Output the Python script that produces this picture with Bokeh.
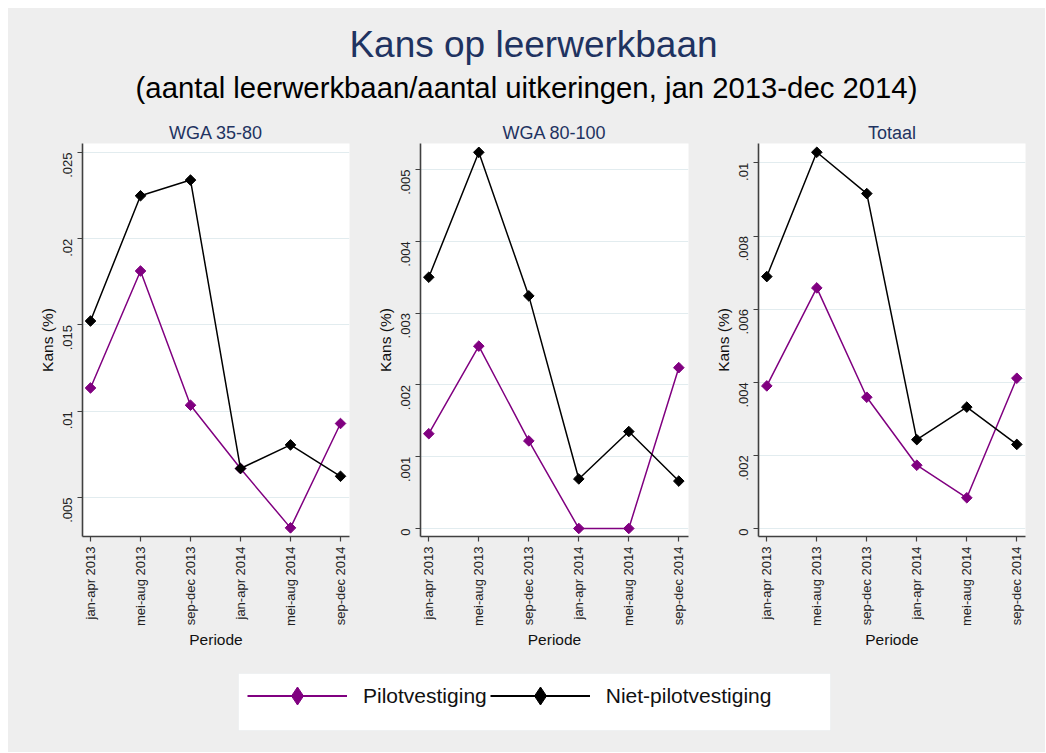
import math
import numpy as np
from bokeh.plotting import figure
from bokeh.models import (Range1d, FixedTicker, Label, Legend, LegendItem,
                          ColumnDataSource, BoxAnnotation)
from bokeh.layouts import column, row
from bokeh.embed import file_html
from bokeh.resources import INLINE

# ---------------- data ----------------
x_pos = [1, 2, 3, 4, 5, 6]
periods = ["jan-apr 2013", "mei-aug 2013", "sep-dec 2013",
           "jan-apr 2014", "mei-aug 2014", "sep-dec 2014"]

wga3580_pilot = [0.01135, 0.01813, 0.01035, 0.00668, 0.00324, 0.00929]
wga3580_niet = [0.01523, 0.02249, 0.02340, 0.00668, 0.00805, 0.00623]

wga80100_pilot = [0.00132, 0.00254, 0.00122, 0.0, 0.0, 0.00224]
wga80100_niet = [0.00350, 0.00524, 0.00324, 0.00069, 0.00135, 0.00066]

totaal_pilot = [0.00390, 0.00658, 0.00359, 0.00173, 0.00084, 0.00411]
totaal_niet = [0.00689, 0.01029, 0.00916, 0.00243, 0.00332, 0.00230]

panel_titles = ["WGA 35-80", "WGA 80-100", "Totaal"]

y_ticks_1 = [0.005, 0.01, 0.015, 0.02, 0.025]
y_labels_1 = [".005", ".01", ".015", ".02", ".025"]
y_ticks_2 = [0.0, 0.001, 0.002, 0.003, 0.004, 0.005]
y_labels_2 = ["0", ".001", ".002", ".003", ".004", ".005"]
y_ticks_3 = [0.0, 0.002, 0.004, 0.006, 0.008, 0.01]
y_labels_3 = ["0", ".002", ".004", ".006", ".008", ".01"]

series_names = ["Pilotvestiging", "Niet-pilotvestiging"]

main_title = "Kans op leerwerkbaan"
sub_title = "(aantal leerwerkbaan/aantal uitkeringen, jan 2013-dec 2014)"

# ---------------- styles ----------------
FONT = "Liberation Sans"
BG = "#eeeeee"
NAVY = "#1f3361"
PURPLE = "#800080"
BLACK = "#000000"
AXIS = "#404040"
GRID = "#e2ecef"

W = 1037
HEADER_H = 110
PANEL_H = 542
LEGEND_H = 92

# ---------------- header ----------------
header = figure(width=W, height=HEADER_H, x_axis_type=None, y_axis_type=None,
                toolbar_location=None, output_backend="svg",
                x_range=Range1d(0, 1), y_range=Range1d(0, 1),
                min_border=0, background_fill_color=BG, border_fill_color=BG,
                outline_line_color=None)
header.xgrid.visible = False
header.ygrid.visible = False
header.add_layout(Label(x=525, y=74, x_units="screen", y_units="screen",
                        text=main_title, text_font=FONT, text_font_size="37px",
                        text_color=NAVY, text_align="center",
                        text_baseline="alphabetic"))
header.add_layout(Label(x=518, y=31, x_units="screen", y_units="screen",
                        text=sub_title, text_font=FONT,
                        text_font_size="29.3px",
                        text_color="#000000", text_align="center",
                        text_baseline="alphabetic"))


def make_panel(title, pilot, niet, yticks, ylabels, yrange, xrange, width,
               left, right):
    p = figure(width=width, height=PANEL_H, toolbar_location=None,
               output_backend="svg", x_range=Range1d(*xrange),
               y_range=Range1d(*yrange), min_border_left=left,
               min_border_right=right, min_border_top=25,
               min_border_bottom=124, background_fill_color="white",
               border_fill_color=BG, outline_line_color=None, title=title)
    p.title.align = "center"
    p.title.text_font = FONT
    p.title.text_font_size = "18px"
    p.title.text_font_style = "normal"
    p.title.text_color = NAVY
    p.title.standoff = 2
    p.title.offset = 0

    xt = FixedTicker(ticks=x_pos)
    p.xaxis.ticker = xt
    p.xaxis.major_label_overrides = dict(zip(x_pos, periods))
    p.xaxis.major_label_orientation = math.pi / 2
    p.xaxis.axis_label = "Periode"
    yt = FixedTicker(ticks=yticks)
    p.yaxis.ticker = yt
    p.ygrid.ticker = yt
    p.yaxis.major_label_overrides = dict(zip(yticks, ylabels))
    p.yaxis.major_label_orientation = math.pi / 2
    p.yaxis.axis_label = "Kans (%)"

    for ax in (p.xaxis[0], p.yaxis[0]):
        ax.axis_line_color = AXIS
        ax.axis_line_width = 1.6
        ax.major_tick_line_color = AXIS
        ax.major_tick_line_width = 1.2
        ax.major_tick_out = 5
        ax.major_tick_in = 0
        ax.minor_tick_line_color = None
        ax.major_label_text_font = FONT
        ax.major_label_text_font_size = "13px"
        ax.major_label_text_color = "#222222"
        ax.axis_label_text_font = FONT
        ax.axis_label_text_font_size = "15.5px"
        ax.axis_label_text_font_style = "normal"
        ax.axis_label_text_color = "#111111"
    p.xaxis.major_label_standoff = 5
    p.xaxis.axis_label_standoff = 2
    p.yaxis.major_label_standoff = 10
    p.yaxis.axis_label_standoff = 0

    p.xgrid.visible = False
    p.ygrid.grid_line_color = GRID
    p.ygrid.grid_line_width = 1.2

    src = ColumnDataSource(dict(x=x_pos, pilot=pilot, niet=niet))
    p.line("x", "pilot", source=src, line_color=PURPLE, line_width=1.5)
    p.scatter("x", "pilot", source=src, marker="square", angle=math.pi / 4,
              size=7.5, fill_color=PURPLE, line_color=PURPLE)
    p.line("x", "niet", source=src, line_color=BLACK, line_width=1.5)
    p.scatter("x", "niet", source=src, marker="square", angle=math.pi / 4,
              size=7.5, fill_color=BLACK, line_color=BLACK)
    return p


p1 = make_panel(panel_titles[0], wga3580_pilot, wga3580_niet, y_ticks_1,
                y_labels_1, (0.00274, 0.02552), (0.84, 6.18), 352, 74, 11)
p2 = make_panel(panel_titles[1], wga80100_pilot, wga80100_niet, y_ticks_2,
                y_labels_2, (-0.000112, 0.005363), (0.834, 6.194), 340, 60, 12)
p3 = make_panel(panel_titles[2], totaal_pilot, totaal_niet, y_ticks_3,
                y_labels_3, (-0.000219, 0.01053), (0.834, 6.174), 345, 58, 20)

# ---------------- legend ----------------
leg = figure(width=W, height=LEGEND_H, x_axis_type=None, y_axis_type=None,
             toolbar_location=None, output_backend="svg",
             x_range=Range1d(0, 1), y_range=Range1d(0, 1),
             min_border=0, background_fill_color=BG, border_fill_color=BG,
             outline_line_color=None)
leg.xgrid.visible = False
leg.ygrid.visible = False
leg.add_layout(BoxAnnotation(left=230, right=822, bottom=22, top=79,
                             left_units="screen", right_units="screen",
                             bottom_units="screen", top_units="screen",
                             fill_color="white", fill_alpha=1.0,
                             line_color="#dfe6e8", line_width=1))
placeholder = ColumnDataSource(dict(x=np.array([np.nan]),
                                    y=np.array([np.nan])))
l1 = leg.line("x", "y", source=placeholder, line_color=PURPLE, line_width=2)
m1 = leg.scatter("x", "y", source=placeholder, marker="diamond",
                 fill_color=PURPLE, line_color=PURPLE)
l2 = leg.line("x", "y", source=placeholder, line_color=BLACK, line_width=2)
m2 = leg.scatter("x", "y", source=placeholder, marker="diamond",
                 fill_color=BLACK, line_color=BLACK)
legend = Legend(items=[LegendItem(label=series_names[0], renderers=[l1, m1]),
                       LegendItem(label=series_names[1], renderers=[l2, m2])],
                orientation="horizontal", location=(239, 34),
                glyph_width=100, glyph_height=45, label_standoff=16,
                spacing=3, padding=6, margin=0,
                label_text_font=FONT, label_text_font_size="21px",
                label_text_color="#111111", background_fill_alpha=0.0,
                border_line_color=None)
leg.add_layout(legend)

layout = column(header,
                row(p1, p2, p3, spacing=0, styles={"background-color": BG}),
                leg, spacing=0, margin=(8, 0, 0, 8),
                styles={"background-color": BG})

open("out.html", "w").write(file_html(layout, INLINE))
